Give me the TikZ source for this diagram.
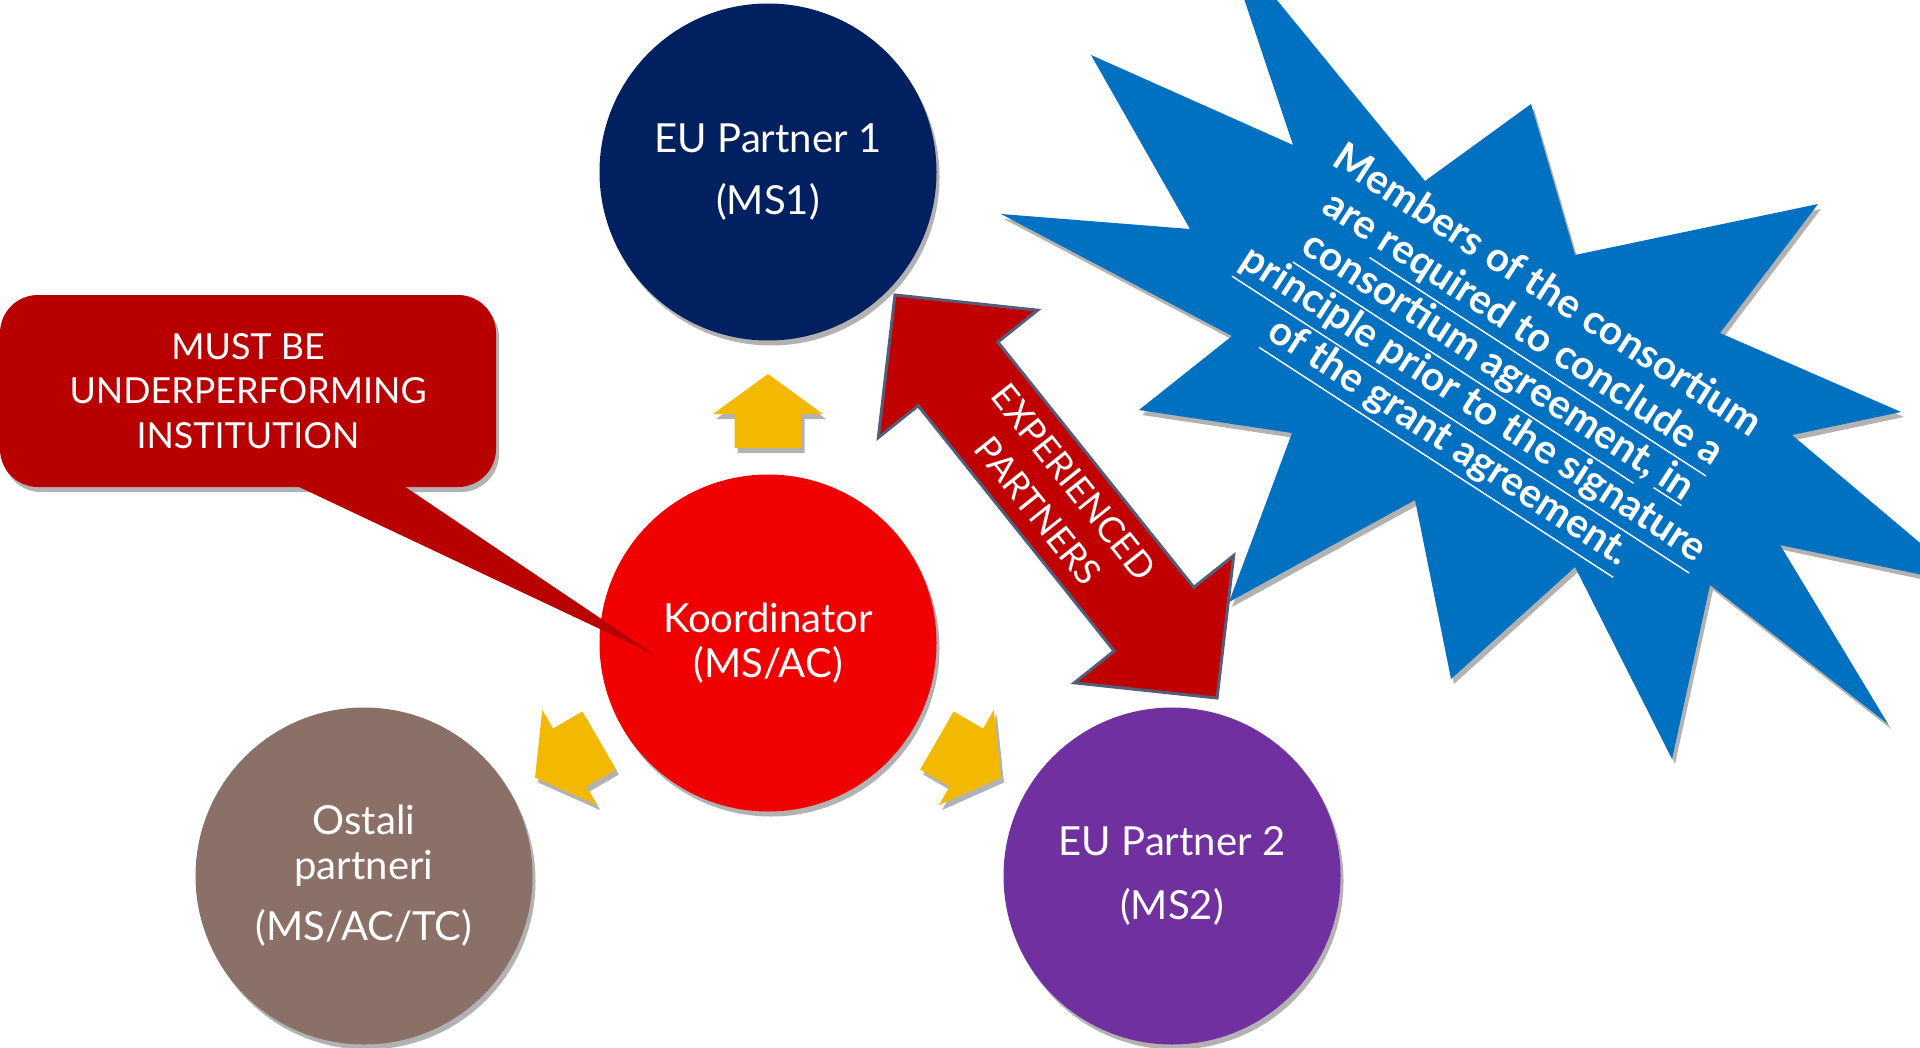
\documentclass[tikz,border=0pt]{standalone}
\usepackage{fontspec}
\setmainfont{Lato}
\usetikzlibrary{shadows}

\definecolor{navy}{RGB}{0,32,96}
\definecolor{koordred}{RGB}{240,0,0}
\definecolor{greybrown}{RGB}{138,112,102}
\definecolor{eupurple}{RGB}{112,48,160}
\definecolor{calloutred}{RGB}{184,0,0}
\definecolor{arrowred}{RGB}{192,0,0}
\definecolor{arrowline}{RGB}{83,93,120}
\definecolor{yellowarrow}{RGB}{242,185,0}
\definecolor{starblue}{RGB}{0,112,192}

\tikzset{
  softshadow/.style={drop shadow={shadow xshift=0.03cm, shadow yshift=-0.05cm, fill=black, opacity=0.3}},
  partner/.style={circle, minimum size=3.37cm, inner sep=0pt, text=white, align=center,
    font=\fontsize{11.4}{12.8}\selectfont, softshadow},
  yarrow/.style={fill=yellowarrow, softshadow},
}

\begin{document}
\begin{tikzpicture}

        \useasboundingbox (0,0) rectangle (19.2,10.47);
        \clip (0,0) rectangle (19.2,10.47);

        \fill[starblue, softshadow] (12.22,11.14) -- (14.25,8.66) -- (15.31,9.43) -- (15.75,7.92)
          -- (18.18,8.43) -- (17.20,7.14) -- (19.01,6.35) -- (17.92,6.12) -- (19.70,4.62)
          -- (17.80,5.02) -- (18.88,3.23) -- (17.10,4.62) -- (16.72,2.88) -- (15.75,4.80)
          -- (14.51,3.68) -- (14.15,5.47) -- (12.29,4.45) -- (12.92,6.14) -- (11.39,6.37)
          -- (12.32,7.11) -- (10.01,8.33) -- (11.90,8.18) -- (10.91,9.92) -- (12.93,9.02) -- cycle;

        \node[rotate=-33, align=center, text=white, font=\bfseries\fontsize{11.5}{12.8}\selectfont]
          (note) at (14.96,6.77) {Members of the consortium\\
          are \underline{required to conclude a}\\
          \underline{consortium agreement}, \underline{in}\\
          \underline{principle prior to the signature}\\
          \underline{of the grant agreement.}};

        \begin{scope}[shift={(10.56,5.505)}, rotate=-51.37]
          \filldraw[fill=arrowred, draw=arrowline, line width=0.03cm, line join=miter]
            (2.58,0) -- (1.57,1.02) -- (1.57,0.51) -- (-1.57,0.51) -- (-1.57,1.02) -- (-2.58,0)
            -- (-1.57,-1.02) -- (-1.57,-0.51) -- (1.57,-0.51) -- (1.57,-1.02) -- cycle;
        \end{scope}
        \node[rotate=-51.37, align=center, text=white, font=\fontsize{10.2}{13.1}\selectfont]
          (exp) at (10.56,5.505) {EXPERIENCED\\PARTNERS};

        \begin{scope}[every node/.style={partner}]
          \node[fill=navy]       (eu1)    at (7.68,8.75) {EU Partner 1\\[4.8pt](MS1)};
          \node[fill=koordred]   (koord)  at (7.68,4.04) {Koordinator\\(MS/AC)};
          \node[fill=greybrown]  (ostali) at (3.64,1.71) {Ostali\\partneri\\[4.6pt](MS/AC/TC)};
          \node[fill=eupurple]   (eu2)    at (11.72,1.71) {EU Partner 2\\[5.4pt](MS2)};
        \end{scope}

        \begin{scope}[shift={(koord.center)}, rotate=90]
          \fill[yarrow] (1.95,0.335) -- (2.29,0.335) -- (2.29,0.55) -- (2.69,0) -- (2.29,-0.55)
            -- (2.29,-0.335) -- (1.95,-0.335) -- cycle;
        \end{scope}
        \begin{scope}[shift={(koord.center)}, rotate=210]
          \fill[yarrow] (1.95,0.335) -- (2.29,0.335) -- (2.29,0.55) -- (2.69,0) -- (2.29,-0.55)
            -- (2.29,-0.335) -- (1.95,-0.335) -- cycle;
        \end{scope}
        \begin{scope}[shift={(koord.center)}, rotate=330]
          \fill[yarrow] (1.95,0.335) -- (2.29,0.335) -- (2.29,0.55) -- (2.69,0) -- (2.29,-0.55)
            -- (2.29,-0.335) -- (1.95,-0.335) -- cycle;
        \end{scope}

        \node[fill=calloutred, rounded corners=0.38cm, minimum width=4.96cm, minimum height=1.92cm,
          text=white, align=center, font=\fontsize{10.2}{12.7}\selectfont, softshadow]
          (must) at (2.48,6.56) {MUST BE\\UNDERPERFORMING\\INSTITUTION};
        \coordinate (tip) at (6.55,3.92);
        \fill[calloutred] ([xshift=0.42cm, yshift=0.05cm]must.south) -- (tip)
          -- ([xshift=1.51cm, yshift=0.05cm]must.south) -- cycle;

      \end{tikzpicture}
\end{document}
